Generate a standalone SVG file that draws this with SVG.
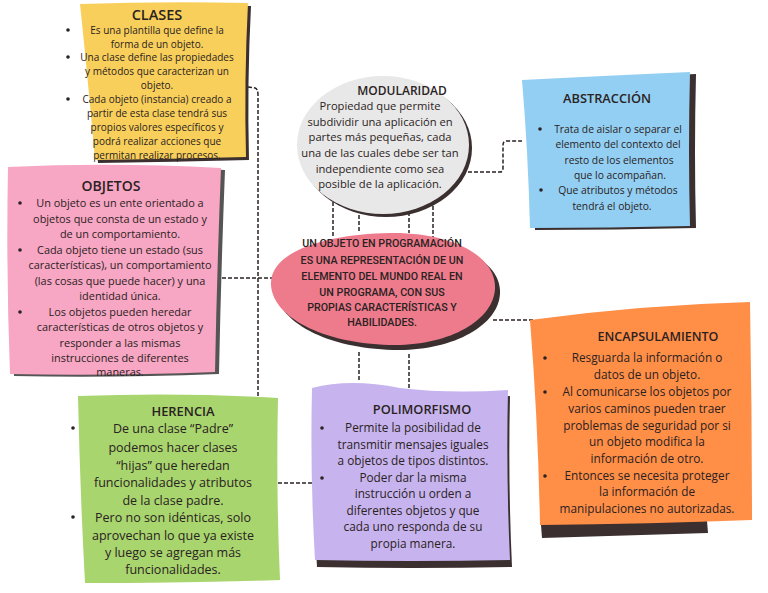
<svg xmlns="http://www.w3.org/2000/svg" width="768" height="593" viewBox="0 0 768 593">
<style>
text{font-family:"Open Sans","DejaVu Sans",sans-serif;fill:#2a2222;text-anchor:middle}
.t{font-weight:600}
.c{font-family:Roboto,"Open Sans",sans-serif;font-weight:500;font-size:10.7px}
.sh{fill:#3b2f2f}
.b{fill:#2a2222}
.dash{fill:none;stroke:#2a2222;stroke-width:1.5;stroke-dasharray:4 2}
</style>
<rect width="768" height="593" fill="#ffffff"/>
<g id="connectors">
<path class="dash" d="M248,87 L255,88 Q258,89 258,95 L258,398"/>
<path class="dash" d="M222,278 L274,278"/>
<path class="dash" d="M278,483 L320,483"/>
<path class="dash" d="M468,172 L500,172 Q503,172 503,168 L503,145 Q503,141 507,141 L522,141"/>
<path class="dash" d="M493,320 L535,320"/>
<path class="dash" d="M333,196 L333,238 M359,209 L359,233 M409,212 L409,233 M433,200 L433,240"/>
<path class="dash" d="M359,352 L359,382 M409,354 L409,389"/>
</g>
<g id="clases">
<path class="sh" d="M83,7 Q168,4 251,6 Q247,83 249,160 Q173,162 98,163 Q91,83 83,7 Z"/>
<path fill="#F9CF5B" d="M80,4 Q165,1 248,3 Q244,80 246,157 Q170,159 95,160 Q88,80 80,4 Z"/>
<text class="t" x="157" y="20" font-size="14.5">CLASES</text>
<g font-size="10">
<text x="157" y="33.5">Es una plantilla que define la</text>
<text x="157" y="47.5">forma de un objeto.</text>
<text x="157" y="60.5">Una clase define las propiedades</text>
<text x="157" y="74.5">y métodos que caracterizan un</text>
<text x="157" y="88.5">objeto.</text>
<text x="157" y="102.5">Cada objeto (instancia) creado a</text>
<text x="157" y="116.5">partir de esta clase tendrá sus</text>
<text x="157" y="130.5">propios valores específicos y</text>
<text x="157" y="144.5">podrá realizar acciones que</text>
<text x="157" y="158.5">permitan realizar procesos.</text>
</g>
<circle class="b" cx="68" cy="30" r="1.8"/><circle class="b" cx="68" cy="57" r="1.8"/><circle class="b" cx="68" cy="99" r="1.8"/>
</g>
<g id="objetos">
<path fill="#555" d="M12,169 Q114,164 225,170 Q221,272 219,374 Q114,378 14,376 Q10,272 12,169 Z"/>
<path fill="#F7A6C3" d="M8,167 Q110,162 221,168 Q217,270 215,372 Q110,376 10,374 Q6,270 8,167 Z"/>
<text class="t" x="111" y="191" font-size="14">OBJETOS</text>
<g font-size="10.9">
<text x="120" y="206.8">Un objeto es un ente orientado a</text>
<text x="120" y="222.8">objetos que consta de un estado y</text>
<text x="120" y="237.8">de un comportamiento.</text>
<text x="120" y="253.8">Cada objeto tiene un estado (sus</text>
<text x="120" y="268.8">características), un comportamiento</text>
<text x="120" y="284.8">(las cosas que puede hacer) y una</text>
<text x="120" y="299.8">identidad única.</text>
<text x="120" y="315.8">Los objetos pueden heredar</text>
<text x="120" y="330.8">características de otros objetos y</text>
<text x="120" y="346.8">responder a las mismas</text>
<text x="120" y="361.8">instrucciones de diferentes</text>
<text x="120" y="375.8">maneras.</text>
</g>
<circle class="b" cx="20" cy="203" r="1.8"/><circle class="b" cx="20" cy="250" r="1.8"/><circle class="b" cx="20" cy="312" r="1.8"/>
</g>
<g id="modularidad">
<ellipse class="sh" cx="386" cy="148" rx="86" ry="69"/>
<ellipse fill="#E8E8E8" cx="383" cy="145" rx="86" ry="69"/>
<text class="t" x="402" y="95" font-size="12">MODULARIDAD</text>
<g font-size="11.2">
<text x="380" y="110">Propiedad que permite</text>
<text x="380" y="126">subdividir una aplicación en</text>
<text x="380" y="141">partes más pequeñas, cada</text>
<text x="380" y="157">una de las cuales debe ser tan</text>
<text x="380" y="173">independiente como sea</text>
<text x="380" y="188">posible de la aplicación.</text>
</g>
</g>
<g id="abstraccion">
<path class="sh" d="M527,82 Q605,78 696,74 Q694,152 696,228 Q615,230 535,230 Q533,152 527,82 Z"/>
<path fill="#93CFF3" d="M522,80 Q600,76 690,72 Q688,150 690,226 Q610,228 530,228 Q528,150 522,80 Z"/>
<text class="t" x="607" y="103" font-size="12.8">ABSTRACCIÓN</text>
<g font-size="10.3">
<text x="618" y="132.5">Trata de aislar o separar el</text>
<text x="618" y="147.5">elemento del contexto del</text>
<text x="619" y="163.5">resto de los elementos</text>
<text x="620" y="178.5">que lo acompañan.</text>
<text x="618" y="193.5">Que atributos y métodos</text>
<text x="612" y="209.5">tendrá el objeto.</text>
</g>
<circle class="b" cx="540" cy="129" r="1.8"/><circle class="b" cx="541" cy="190" r="1.8"/>
</g>
<g id="centro">
<path class="sh" d="M276,290 C274,255 334,240 394,239 C454,238 501,260 500,293 C499,325 454,350 399,350 C334,350 278,325 276,290 Z"/>
<path fill="#EE7B8C" d="M271,285 C269,250 330,234 390,233 C450,232 496,255 495,288 C494,320 450,345 395,345 C330,345 273,320 271,285 Z"/>
<text class="c" x="382" y="247">UN OBJETO EN PROGRAMACIÓN</text>
<text class="c" x="382" y="264">ES UNA REPRESENTACIÓN DE UN</text>
<text class="c" x="382" y="280">ELEMENTO DEL MUNDO REAL EN</text>
<text class="c" x="382" y="296">UN PROGRAMA, CON SUS</text>
<text class="c" x="382" y="311">PROPIAS CARACTERÍSTICAS Y</text>
<text class="c" x="382" y="326">HABILIDADES.</text>
</g>
<g id="encapsulamiento">
<path class="sh" d="M540,512 L706,509 L708,533 L542,538 Z"/>
<path fill="#FF8E47" d="M530,320 Q640,305 750,302 Q752,410 752,520 Q650,524 540,525 Q538,420 530,320 Z"/>
<text class="t" x="658" y="341" font-size="12.5">ENCAPSULAMIENTO</text>
<g font-size="11.8">
<text x="647" y="362">Resguarda la información o</text>
<text x="647" y="379">datos de un objeto.</text>
<text x="647" y="396">Al comunicarse los objetos por</text>
<text x="647" y="413">varios caminos pueden traer</text>
<text x="647" y="430">problemas de seguridad por si</text>
<text x="647" y="446">un objeto modifica la</text>
<text x="647" y="463">información de otro.</text>
<text x="647" y="480">Entonces se necesita proteger</text>
<text x="647" y="496">la información de</text>
<text x="647" y="513">manipulaciones no autorizadas.</text>
</g>
<circle class="b" cx="545" cy="358" r="1.8"/><circle class="b" cx="545" cy="392" r="1.8"/><circle class="b" cx="545" cy="476" r="1.8"/>
</g>
<g id="herencia">
<path fill="#A8D56E" d="M78,396 Q180,392 278,398 Q276,490 280,580 Q180,583 85,583 Q80,490 78,396 Z"/>
<text class="t" x="183" y="416" font-size="12.9">HERENCIA</text>
<g font-size="12.5">
<text x="173" y="432.5">De una clase “Padre”</text>
<text x="173" y="451.5">podemos hacer clases</text>
<text x="173" y="469.5">“hijas” que heredan</text>
<text x="173" y="486.5">funcionalidades y atributos</text>
<text x="173" y="504.5">de la clase padre.</text>
<text x="173" y="521.5">Pero no son idénticas, solo</text>
<text x="173" y="539.5">aprovechan lo que ya existe</text>
<text x="173" y="556.5">y luego se agregan más</text>
<text x="173" y="573.5">funcionalidades.</text>
</g>
<circle class="b" cx="73" cy="428" r="1.8"/><circle class="b" cx="73" cy="517" r="1.8"/>
</g>
<g id="polimorfismo">
<path class="sh" d="M314,394 Q352,384 402,394 Q452,400 510,396 Q508,481 512,567 Q412,569 317,567 Q312,481 314,394 Z"/>
<path fill="#C7B4EE" d="M312,388 Q350,378 400,388 Q450,394 508,390 Q506,475 510,560 Q410,562 315,560 Q310,475 312,388 Z"/>
<text class="t" x="422" y="414" font-size="12.8">POLIMORFISMO</text>
<g font-size="11.8">
<text x="413" y="432">Permite la posibilidad de</text>
<text x="413" y="449">transmitir mensajes iguales</text>
<text x="413" y="465">a objetos de tipos distintos.</text>
<text x="413" y="482">Poder dar la misma</text>
<text x="413" y="498">instrucción u orden a</text>
<text x="413" y="515">diferentes objetos y que</text>
<text x="413" y="531">cada uno responda de su</text>
<text x="413" y="548">propia manera.</text>
</g>
<circle class="b" cx="322" cy="428" r="1.8"/><circle class="b" cx="322" cy="478" r="1.8"/>
</g>
</svg>
